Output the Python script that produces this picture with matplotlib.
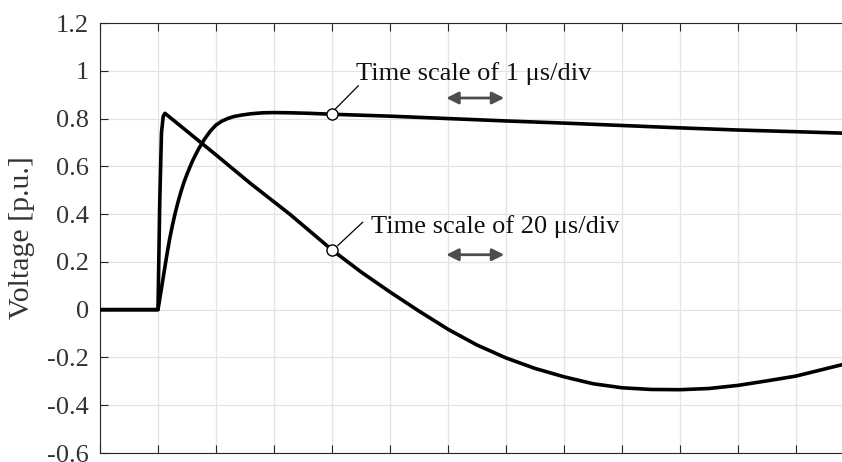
import numpy as np
import matplotlib
matplotlib.use("Agg")
import matplotlib.pyplot as plt

# Time axis in divisions; the impulse starts at division 1
t_fast = [0.0, 1.0, 1.03, 1.06, 1.09, 1.12, 2.0, 2.586, 3.276, 4.0, 4.5, 5.0,
          5.5, 6.0, 6.5, 7.0, 7.5, 8.0, 8.5, 9.0, 9.5, 10.0, 10.5, 11.0,
          11.5, 12.0, 12.4, 12.8]
v_20us = [0.0, 0.0, 0.45, 0.74, 0.81, 0.822, 0.648, 0.53, 0.399, 0.25, 0.158,
          0.074, -0.006, -0.082, -0.148, -0.202, -0.246, -0.281, -0.31,
          -0.327, -0.334, -0.335, -0.330, -0.317, -0.298, -0.278, -0.254,
          -0.23]

t_slow = [0.0, 1.0, 1.05, 1.1, 1.15, 1.2, 1.25, 1.3, 1.35, 1.4, 1.45, 1.5,
          1.55, 1.6, 1.7, 1.8, 1.9, 2.0, 2.1, 2.2, 2.3, 2.45, 2.6, 2.8, 3.0,
          3.3, 3.6, 4.0, 5.0, 6.0, 7.0, 8.0, 9.0, 10.0, 11.0, 12.0, 12.8]
v_1us = [0.0, 0.0, 0.075, 0.15, 0.225, 0.295, 0.355, 0.408, 0.455, 0.497,
         0.535, 0.567, 0.597, 0.625, 0.673, 0.713, 0.747, 0.773, 0.789, 0.8,
         0.808, 0.815, 0.82, 0.824, 0.825, 0.824, 0.822, 0.818, 0.81, 0.80,
         0.79, 0.781, 0.771, 0.761, 0.752, 0.745, 0.739]

y_ticks = [-0.6, -0.4, -0.2, 0, 0.2, 0.4, 0.6, 0.8, 1, 1.2]
y_tick_labels = ["-0.6", "-0.4", "-0.2", "0", "0.2", "0.4", "0.6", "0.8", "1", "1.2"]

label_1us = "Time scale of 1 μs/div"
label_20us = "Time scale of 20 μs/div"

plt.rcParams["font.family"] = ["Liberation Serif", "DejaVu Serif"]
plt.rcParams["font.size"] = 19

fig = plt.figure(figsize=(8.42, 4.62), dpi=100)
ax = fig.add_axes([100 / 842, 9 / 462, 742 / 842, 430 / 462])

ax.plot(t_fast, v_20us, color="black", lw=2.6, solid_joinstyle="round", zorder=3)
ax.plot(t_slow, v_1us, color="black", lw=2.6, solid_joinstyle="round", zorder=3)

# markers on each trace at division 4
i_fast = t_fast.index(4.0)
i_slow = t_slow.index(4.0)
ax.plot(t_slow[i_slow], v_1us[i_slow], "o", ms=8, mfc="white", mec="black",
        mew=1.0, zorder=4)
ax.plot(t_fast[i_fast], v_20us[i_fast], "o", ms=8, mfc="white", mec="black",
        mew=1.0, zorder=4)

# leader lines and captions
ax.plot([4.05, 4.453], [0.838, 0.937], color="black", lw=0.9, zorder=4)
ax.plot([4.1, 4.529], [0.2685, 0.366], color="black", lw=0.9, zorder=4)
ax.text(4.414, 0.963, label_1us, ha="left", va="baseline", color="#111111")
ax.text(4.672, 0.320, label_20us, ha="left", va="baseline", color="#111111")

# one-division arrows
for y in (0.886, 0.23):
    ax.annotate("", xy=(6.97, y), xytext=(5.97, y),
                arrowprops=dict(arrowstyle="<|-|>", color="#4d4d4d", lw=2.0,
                                mutation_scale=18, shrinkA=0, shrinkB=0))

ax.set_xlim(0, 742 / 58)
ax.set_ylim(-0.6, 1.2)
ax.set_xticks(np.arange(0, 13))
ax.set_xticklabels([])
ax.set_yticks(y_ticks)
ax.set_yticklabels(y_tick_labels)

ax.grid(True, color="#e3e3e3", lw=0.9)
ax.set_axisbelow(True)
ax.tick_params(axis="both", direction="in", length=6, width=0.8,
               color="#262626", labelcolor="#333333", top=True, pad=8)
ax.tick_params(axis="y", right=False)
for side in ("left", "top", "bottom"):
    ax.spines[side].set_color("#262626")
    ax.spines[side].set_linewidth(0.8)
ax.spines["right"].set_visible(False)

ax.set_ylabel("Voltage [p.u.]", color="#333333", fontsize=21.5)
ax.yaxis.set_label_coords(-0.0875, 0.5)

fig.savefig("out.png", dpi=100)
